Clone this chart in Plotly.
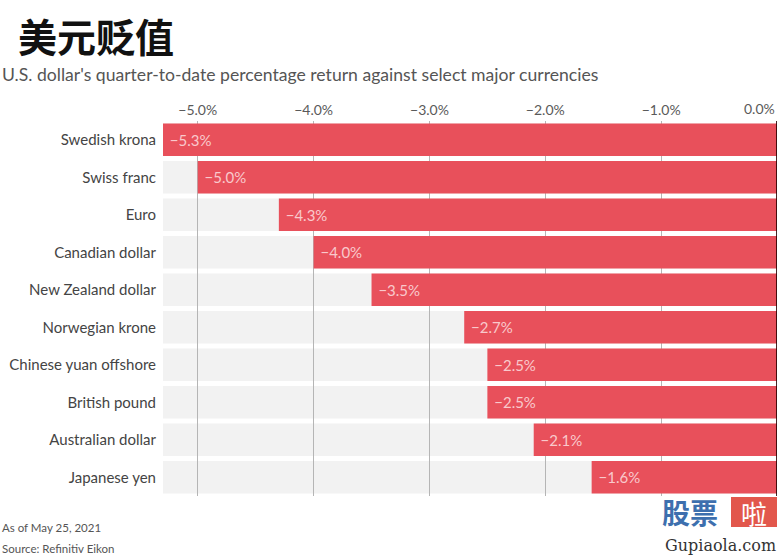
import plotly.graph_objects as go

currencies = ["Swedish krona", "Swiss franc", "Euro", "Canadian dollar", "New Zealand dollar",
              "Norwegian krone", "Chinese yuan offshore", "British pound", "Australian dollar", "Japanese yen"]
returns = [-5.3, -5.0, -4.3, -4.0, -3.5, -2.7, -2.5, -2.5, -2.1, -1.6]
labels = ["−5.3%", "−5.0%", "−4.3%", "−4.0%", "−3.5%", "−2.7%", "−2.5%", "−2.5%", "−2.1%", "−1.6%"]
tick_vals = [-5, -4, -3, -2, -1, 0]
tick_text = ["−5.0%", "−4.0%", "−3.0%", "−2.0%", "−1.0%", ""]
last_tick_text = "0.0%"
x_range = [-5.3, 0]

FONT = "Lato"
RED = "#e8505b"
L, R, T, B = 163, 2, 121, 59
W, H = 779, 555

fig = go.Figure()
fig.add_trace(go.Bar(
    y=currencies, x=returns, orientation="h",
    marker=dict(color=RED, line=dict(width=0)),
    text=labels, texttemplate="&nbsp;%{text}", textposition="inside", insidetextanchor="end",
    textfont=dict(family=FONT, size=15, color="#f9c9cc"),
    hoverinfo="skip",
))

shapes = []
for c in currencies:
    shapes.append(dict(type="rect", xref="x domain", yref="y", x0=0, x1=1,
                       y0=c, y1=c, y0shift=-0.433, y1shift=0.433,
                       fillcolor="#f2f2f2", line=dict(width=0), layer="below"))
shapes.append(dict(type="line", xref="x", yref="y domain", x0=0, x1=0, y0=0, y1=1,
                   line=dict(color="rgba(40,0,0,0.85)", width=2), layer="above"))
# watermark box
shapes.append(dict(type="rect", xref="paper", yref="paper",
                   x0=(731 - L) / (W - L - R), x1=(777 - L) / (W - L - R),
                   y0=(H - 527 - B) / (H - T - B), y1=(H - 497 - B) / (H - T - B),
                   fillcolor="#e2574c", line=dict(width=0), layer="above"))

def px(x, y):
    return (x - L) / (W - L - R), (H - y - B) / (H - T - B)

def ann(text, x, y, size, color, family=FONT, xanchor="left"):
    ax, ay = px(x, y)
    return dict(text=text, x=ax, y=ay, xref="paper", yref="paper", showarrow=False,
                xanchor=xanchor, yanchor="middle", font=dict(family=family, size=size, color=color))

FOOT = "Lato"
fig.update_layout(
    width=W, height=H,
    margin=dict(l=L, r=R, t=T, b=B, autoexpand=False),
    paper_bgcolor="white", plot_bgcolor="white",
    showlegend=False, bargap=0.133,
    shapes=shapes,
    font=dict(family=FONT, color="#444"),
    xaxis=dict(side="top", range=x_range, tickvals=tick_vals, ticktext=tick_text,
               showgrid=True, gridcolor="#b5b5b5", gridwidth=1, zeroline=False,
               showline=False, ticks="", ticklabelstandoff=2,
               automargin=False,
               tickfont=dict(family=FONT, size=14, color="#5a5a5a"),
               fixedrange=True),
    yaxis=dict(categoryorder="array", categoryarray=currencies, autorange="reversed",
               showgrid=False, zeroline=False, showline=False, ticks="",
               ticklabelstandoff=6, automargin=False,
               tickfont=dict(family=FONT, size=15, color="#444"), fixedrange=True),
    annotations=[
        dict(text=last_tick_text, x=tick_vals[-1], xref="x", y=px(0, 109)[1], yref="paper",
             showarrow=False, xanchor="right", yanchor="middle",
             font=dict(family=FONT, size=14, color="#5a5a5a")),
        ann("<b>美元贬值</b>", 16, 35, 39, "#111", "Noto Sans CJK SC"),
        ann("U.S. dollar's quarter-to-date percentage return against select major currencies",
            0, 74, 17.6, "#555"),
        ann("As of May 25, 2021", 0, 527, 11.5, "#555", FOOT),
        ann("Source: Refinitiv Eikon", 0, 548, 11.5, "#555", FOOT),
        ann("<b>股票</b>", 690, 512, 28, "#3d6fae", "Noto Sans CJK SC", "center"),
        ann("啦", 754, 512, 26, "white", "Noto Sans CJK SC", "center"),
        ann("Gupiaola.com", 720, 545, 16, "#333", "DejaVu Serif", "center"),
    ],
)
fig.write_html("out.html")
